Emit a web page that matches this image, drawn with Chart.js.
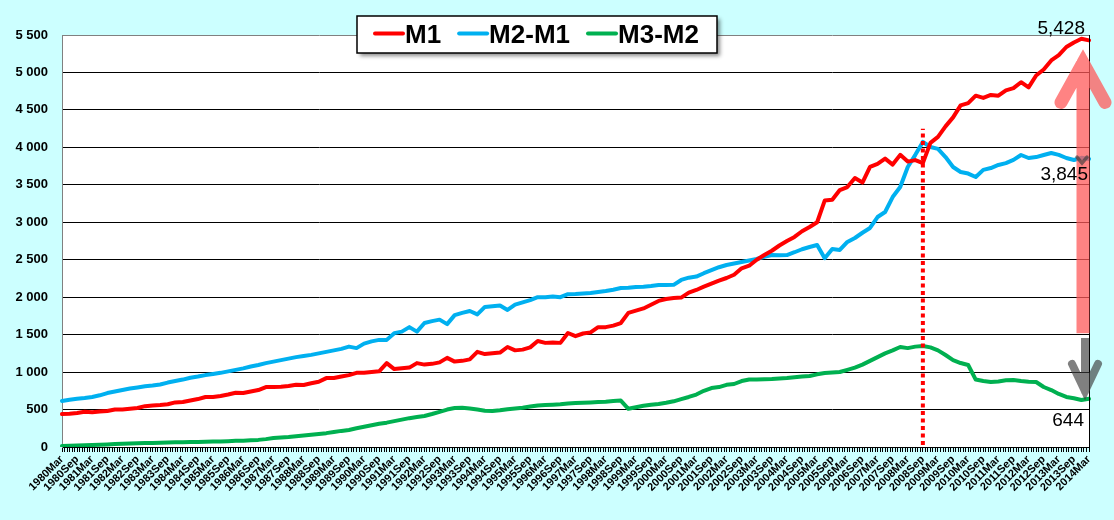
<!DOCTYPE html>
<html>
<head>
<meta charset="utf-8">
<script src="https://cdn.jsdelivr.net/npm/chart.js@4.4.1/dist/chart.umd.min.js"></script>
<style>
  html, body { margin: 0; padding: 0; background: #ccffff; }
  #wrap { width: 1114px; height: 520px; position: relative; }
</style>
</head>
<body>
<div id="wrap"><canvas id="chart"></canvas></div>
<script>
// monthly axis categories, 1980Mar .. 2014Mar
const monthNames = ['Jan','Feb','Mar','Apr','May','Jun','Jul','Aug','Sep','Oct','Nov','Dec'];
const months = [];
for (let t = 1980 * 12 + 2; t <= 2014 * 12 + 2; t++) {
  months.push(Math.floor(t / 12) + monthNames[t % 12]);
}
const quarters = months.filter((m, i) => i % 3 === 0);

const m1 = [
  440, 445, 455, 470,   465, 475, 480, 500,   500, 510, 520, 545,   555, 560, 570, 595,
  600, 620, 640, 668,   668, 680, 700, 725,   720, 740, 760, 800,   800, 805, 815, 830,
  828, 850, 870, 920,   920, 940, 960, 990,   990, 1000, 1010, 1120, 1040, 1050, 1060, 1120,
  1100, 1110, 1130, 1190, 1140, 1150, 1170, 1270, 1240, 1250, 1260, 1335, 1290, 1300, 1330, 1415,
  1390, 1395, 1390, 1522, 1480, 1515, 1530, 1600, 1600, 1620, 1655, 1790, 1820, 1850, 1900, 1950,
  1975, 1990, 1995, 2060, 2096, 2140, 2180, 2220, 2256, 2300, 2385, 2420, 2500, 2563, 2620, 2690,
  2750, 2804, 2880, 2937, 3000, 3290, 3300, 3430, 3470, 3590, 3530, 3740, 3780, 3850, 3770, 3900,
  3810, 3830, 3790, 4060, 4140, 4280, 4400, 4560, 4590, 4690, 4660, 4700, 4690, 4760, 4790, 4870,
  4800, 4960, 5040, 5160, 5230, 5340, 5400, 5450, 5428
];
const m2m1 = [
  614, 630, 645, 655,   668, 690, 720, 740,   760, 780, 795, 810,   820, 835, 860, 880,
  900, 925, 940, 960,   975, 990, 1010, 1030, 1050, 1075, 1095, 1120, 1140, 1160, 1180, 1200,
  1215, 1230, 1250, 1270, 1290, 1310, 1340, 1320, 1380, 1410, 1430, 1430, 1520, 1540, 1600, 1540,
  1655, 1680, 1700, 1640, 1760, 1790, 1815, 1770, 1870, 1880, 1890, 1830, 1900, 1930, 1960, 2000,
  2000, 2010, 2000, 2040, 2043, 2050, 2056, 2070, 2083, 2100, 2123, 2125, 2136, 2140, 2150, 2163,
  2163, 2165, 2230, 2260, 2275, 2320, 2360, 2400, 2430, 2450, 2470, 2490, 2510, 2540, 2563, 2560,
  2563, 2600, 2640, 2670, 2697, 2520, 2643, 2630, 2737, 2790, 2860, 2924, 3070, 3137, 3337, 3470,
  3738, 3900, 4072, 4005, 3980, 3871, 3738, 3671, 3650, 3604, 3700, 3724, 3765, 3790, 3832, 3898,
  3858, 3870, 3898, 3925, 3900, 3858, 3832, 3860, 3845
];
const m3m2 = [
  15, 17, 20, 25,       27, 30, 35, 40,       45, 48, 50, 52,       55, 57, 60, 62,
  64, 66, 67, 70,       72, 75, 78, 82,       85, 90, 95, 105,      120, 128, 135, 145,
  155, 165, 174, 185,   200, 215, 227, 250,   270, 290, 310, 325,   345, 365, 385, 400,
  414, 440, 470, 500,   520, 525, 515, 500,   485, 480, 490, 505,   515, 525, 540, 555,
  560, 565, 570, 580,   587, 590, 595, 600,   605, 614, 620, 510,   530, 550, 565, 574,
  590, 610, 640, 668,   700, 750, 787, 800,   830, 841, 880, 900,   900, 905, 908, 915,
  921, 930, 940, 948,   970, 988, 995, 1001,  1030, 1060, 1100, 1150, 1200, 1250, 1290, 1335,
  1320, 1340, 1348, 1330, 1290, 1228, 1160, 1121, 1095, 900, 880, 868, 875, 890, 894, 880,
  870, 868, 801, 760,   708, 668, 650, 627,   644
];

const seriesNames = ['M1', 'M2-M1', 'M3-M2'];
const seriesColors = ['#ff0000', '#00b0f0', '#00b050'];
const seriesData = [m1, m2m1, m3m2];

const shockMonth = '2008Sep';
const shockTop = 4250;
const FONT = 'Arial, "Liberation Sans", sans-serif';

function spaced(v) {
  return String(v).replace(/\B(?=(\d{3})+(?!\d))/g, ' ');
}

const overlay = {
  id: 'overlay',
  beforeDraw(chart) {
    const { ctx, chartArea: a } = chart;
    ctx.save();
    ctx.fillStyle = '#ffffff';
    ctx.fillRect(a.left, a.top, a.right - a.left, a.bottom - a.top);
    ctx.restore();
  },
  afterDraw(chart) {
    const { ctx, chartArea: a, scales } = chart;
    const y = scales.y;
    const x = scales.x;

    // right border of the plot
    ctx.save();
    ctx.strokeStyle = '#000';
    ctx.lineWidth = 1;
    ctx.beginPath();
    ctx.moveTo(a.right + 0.5, a.top);
    ctx.lineTo(a.right + 0.5, a.bottom);
    ctx.stroke();
    ctx.restore();

    // dotted line at the Lehman month
    const xs = x.getPixelForValue(months.indexOf(shockMonth));
    ctx.save();
    ctx.strokeStyle = '#ff0000';
    ctx.lineWidth = 4;
    ctx.setLineDash([4, 3.5]);
    ctx.beginPath();
    ctx.moveTo(xs, a.bottom - 2);
    ctx.lineTo(xs, y.getPixelForValue(shockTop));
    ctx.stroke();
    ctx.restore();

    // big pink up arrow
    let xc = a.right - 6;
    let yB = y.getPixelForValue(1520);
    let yT = y.getPixelForValue(5130);
    let yA = y.getPixelForValue(4600);
    ctx.save();
    ctx.beginPath();
    ctx.rect(0, 0, chart.width, yB);
    ctx.clip();
    ctx.strokeStyle = 'rgba(255,90,90,0.75)';
    ctx.lineWidth = 13;
    ctx.lineCap = 'round';
    ctx.lineJoin = 'miter';
    ctx.beginPath();
    ctx.moveTo(xc, yB + 10);
    ctx.lineTo(xc, yT);
    ctx.moveTo(xc - 22, yA);
    ctx.lineTo(xc, yT);
    ctx.lineTo(xc + 22, yA);
    ctx.stroke();
    ctx.restore();

    // gray down arrow near M3-M2
    xc = a.right - 4;
    yT = y.getPixelForValue(1455);
    yB = y.getPixelForValue(745);
    yA = y.getPixelForValue(1110);
    ctx.save();
    ctx.beginPath();
    ctx.rect(0, yT, chart.width, chart.height);
    ctx.clip();
    ctx.strokeStyle = 'rgba(60,60,60,0.65)';
    ctx.lineWidth = 8;
    ctx.lineCap = 'round';
    ctx.lineJoin = 'miter';
    ctx.beginPath();
    ctx.moveTo(xc, yT - 6);
    ctx.lineTo(xc, yB);
    ctx.moveTo(xc - 13, yA);
    ctx.lineTo(xc, yB);
    ctx.lineTo(xc + 13, yA);
    ctx.stroke();
    ctx.restore();

    // small gray tick near M2-M1 end
    xc = a.right - 7;
    ctx.save();
    ctx.strokeStyle = 'rgba(60,60,60,0.65)';
    ctx.lineWidth = 3.5;
    ctx.lineCap = 'round';
    ctx.beginPath();
    ctx.moveTo(xc - 5, y.getPixelForValue(3870));
    ctx.lineTo(xc, y.getPixelForValue(3790));
    ctx.lineTo(xc + 5, y.getPixelForValue(3870));
    ctx.stroke();
    ctx.restore();

    // end values
    ctx.save();
    ctx.fillStyle = '#000';
    ctx.font = '19px ' + FONT;
    ctx.textAlign = 'right';
    ctx.textBaseline = 'middle';
    const last = arr => arr[arr.length - 1];
    ctx.fillText(last(m1).toLocaleString('en-US'), a.right - 4, y.getPixelForValue(last(m1)) - 12);
    ctx.fillText(last(m2m1).toLocaleString('en-US'), a.right - 1, y.getPixelForValue(last(m2m1)) + 16);
    ctx.fillText(last(m3m2).toLocaleString('en-US'), a.right - 5, y.getPixelForValue(last(m3m2)) + 22);
    ctx.restore();

    // legend box
    const bx = 357, by = 16, bw = 360, bh = 37;
    ctx.save();
    ctx.shadowColor = 'rgba(0,0,0,0.45)';
    ctx.shadowBlur = 4;
    ctx.shadowOffsetX = 3;
    ctx.shadowOffsetY = 3;
    ctx.fillStyle = '#fff';
    ctx.fillRect(bx, by, bw, bh);
    ctx.restore();
    ctx.save();
    ctx.strokeStyle = '#000';
    ctx.lineWidth = 1.5;
    ctx.strokeRect(bx, by, bw, bh);
    ctx.font = 'bold 26px ' + FONT;
    ctx.textBaseline = 'alphabetic';
    let lx = 375;
    seriesNames.forEach((name, i) => {
      ctx.strokeStyle = seriesColors[i];
      ctx.lineWidth = 4;
      ctx.lineCap = 'round';
      ctx.beginPath();
      ctx.moveTo(lx, 33.5);
      ctx.lineTo(lx + 28, 33.5);
      ctx.stroke();
      ctx.fillStyle = '#000';
      ctx.fillText(name, lx + 30, 43);
      lx += 30 + ctx.measureText(name).width + 18;
    });
    ctx.restore();
  }
};

new Chart(document.getElementById('chart'), {
  type: 'line',
  data: {
    labels: months,
    datasets: seriesData.map((vals, i) => ({
      label: seriesNames[i],
      data: vals.map((v, k) => ({ x: quarters[k], y: v })),
      borderColor: seriesColors[i],
      backgroundColor: seriesColors[i],
      borderWidth: 4,
      borderCapStyle: 'round',
      borderJoinStyle: 'round',
      pointRadius: 0,
      tension: 0,
      fill: false
    }))
  },
  options: {
    responsive: true,
    maintainAspectRatio: false,
    animation: false,
    layout: { padding: { top: 35, right: 25, left: 0, bottom: 0 } },
    plugins: {
      legend: { display: false },
      tooltip: { enabled: false }
    },
    scales: {
      x: {
        type: 'category',
        offset: false,
        afterFit: s => { s.height = 73; },
        grid: {
          drawOnChartArea: false,
          drawTicks: true,
          tickLength: 5,
          color: '#000'
        },
        border: { color: '#000', width: 1 },
        ticks: {
          autoSkip: false,
          maxRotation: 45,
          minRotation: 45,
          padding: 1,
          color: '#000',
          font: { family: FONT, size: 11, weight: 'bold' },
          callback: function (value, index) {
            return index % 6 === 0 ? this.getLabelForValue(value) : '';
          }
        }
      },
      y: {
        min: 0,
        max: 5500,
        afterFit: s => { s.width = 62; },
        grid: {
          drawTicks: false,
          color: c => (c.tick && c.tick.value === 5500 ? '#808080' : '#000'),
          lineWidth: 1
        },
        border: { color: '#808080', width: 1 },
        ticks: {
          stepSize: 500,
          padding: 14,
          color: '#000',
          font: { family: FONT, size: 13, weight: 'bold' },
          callback: v => spaced(v)
        }
      }
    }
  },
  plugins: [overlay]
});
</script>
</body>
</html>
